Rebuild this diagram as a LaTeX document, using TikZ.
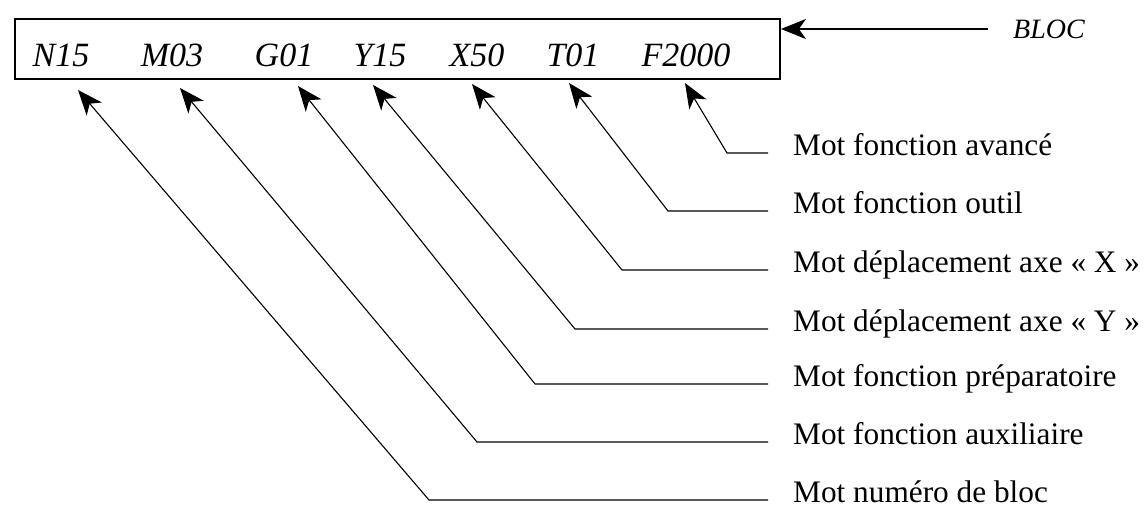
\documentclass[tikz,border=0pt]{standalone}
\usepackage{fontspec}
\setmainfont{Liberation Serif}
\usetikzlibrary{arrows.meta}

\begin{document}
\begin{tikzpicture}[x=1pt,y=-1pt,
    mot/.style={anchor=base,inner sep=0pt,font=\fontsize{34}{40}\selectfont\itshape},
    lab/.style={anchor=west,inner xsep=25pt,inner ysep=0pt,text height=0.7em,text depth=0.2em,font=\fontsize{31.3}{38}\selectfont},
    fleche/.style={line width=1.1pt,-{Stealth[length=25pt,width=20pt,inset=7pt]}}]
    \useasboundingbox (0,0) rectangle (1147,514);

    \node[draw,line width=1.8pt,minimum width=765pt,minimum height=60pt,inner sep=0pt] (bloc) at (397.5,49) {};
    \node[mot] (cN) at (61,66) {N15};
    \node[mot] (cM) at (172,66) {M03};
    \node[mot] (cG) at (284,66) {G01};
    \node[mot] (cY) at (380,66) {Y15};
    \node[mot] (cX) at (477,66) {X50};
    \node[mot] (cT) at (573,66) {T01};
    \node[mot] (cF) at (686,66) {F2000};

    \node[anchor=west,inner xsep=25pt,font=\fontsize{28}{32}\selectfont\itshape] (tBloc) at (988,29) {BLOC};
    \draw[fleche] (tBloc.west) -- (tBloc.west -| bloc.east);

    \coordinate (tN) at (78,90);
    \coordinate (tM) at (180,88);
    \coordinate (tG) at (298,86);
    \coordinate (tY) at (373,85);
    \coordinate (tX) at (472,84);
    \coordinate (tT) at (569,83);
    \coordinate (tF) at (685,83);

    \node[lab] (lAv) at (768,153) {Mot fonction avancé};
    \node[lab] (lOu) at (768,211) {Mot fonction outil};
    \node[lab] (lX) at (768,270) {Mot déplacement axe « X »};
    \node[lab] (lY) at (768,329) {Mot déplacement axe « Y »};
    \node[lab] (lPr) at (768,384) {Mot fonction préparatoire};
    \node[lab] (lAu) at (768,442) {Mot fonction auxiliaire};
    \node[lab] (lNu) at (768,500) {Mot numéro de bloc};

    \draw[fleche] (lAv.west) -- (727,153) -- (tF);
    \draw[fleche] (lOu.west) -- (668,211) -- (tT);
    \draw[fleche] (lX.west) -- (622,270) -- (tX);
    \draw[fleche] (lY.west) -- (575,329) -- (tY);
    \draw[fleche] (lPr.west) -- (535,384) -- (tG);
    \draw[fleche] (lAu.west) -- (477,442) -- (tM);
    \draw[fleche] (lNu.west) -- (429,500) -- (tN);
\end{tikzpicture}
\end{document}
